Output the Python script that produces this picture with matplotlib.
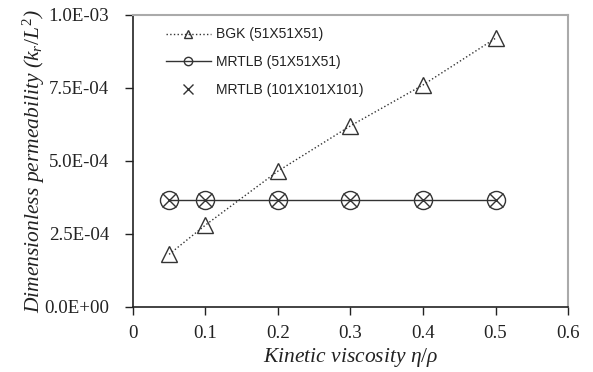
import matplotlib
matplotlib.use("Agg")
from matplotlib import pyplot as plt

viscosity = [0.05, 0.1, 0.2, 0.3, 0.4, 0.5]
bgk_51 = [1.8e-4, 2.8e-4, 4.65e-4, 6.2e-4, 7.6e-4, 9.2e-4]
mrt_51 = [3.65e-4, 3.65e-4, 3.65e-4, 3.65e-4, 3.65e-4, 3.65e-4]
mrt_101 = [3.65e-4, 3.65e-4, 3.65e-4, 3.65e-4, 3.65e-4, 3.65e-4]

plt.rcParams['mathtext.fontset'] = 'custom'
plt.rcParams['mathtext.rm'] = 'Liberation Serif'
plt.rcParams['mathtext.it'] = 'Liberation Serif:italic'

fig = plt.figure(figsize=(5.93, 3.72), dpi=100)
ax = fig.add_axes([0.224, 0.175, 0.734, 0.785])

ink = '#333333'
ax.plot(viscosity, bgk_51, linestyle=':', color=ink, linewidth=1.0, marker='^',
        markersize=12, markerfacecolor='none', markeredgecolor=ink, markeredgewidth=1.0,
        label='BGK (51X51X51)')
ax.plot(viscosity, mrt_51, linestyle='-', color=ink, linewidth=1.0, marker='o',
        markersize=13, markerfacecolor='none', markeredgecolor=ink, markeredgewidth=1.0,
        label='MRTLB (51X51X51)')
ax.plot(viscosity, mrt_101, linestyle='none', marker='x', color=ink,
        markersize=10, markeredgewidth=1.0, label='MRTLB (101X101X101)')

ax.set_xlim(0, 0.6)
ax.set_ylim(0, 1.0e-3)
ax.set_xticks([0, 0.1, 0.2, 0.3, 0.4, 0.5, 0.6])
ax.set_xticklabels(['0', '0.1', '0.2', '0.3', '0.4', '0.5', '0.6'])
yt = [0, 2.5e-4, 5.0e-4, 7.5e-4, 1.0e-3]
ax.set_yticks(yt)
ax.set_yticklabels(['0.0E+00', '2.5E-04', '5.0E-04', '7.5E-04', '1.0E-03'])
for lab in ax.get_xticklabels() + ax.get_yticklabels():
    lab.set_fontfamily('Liberation Serif')
    lab.set_fontsize(13.6)
    lab.set_color('#222222')
ax.tick_params(direction='out', length=6, width=1, color='#222222')
ax.tick_params(axis='x', pad=7)
ax.tick_params(axis='y', pad=11)

for s in ['top', 'right']:
    ax.spines[s].set_color('#aaaaaa')
    ax.spines[s].set_linewidth(1.5)
for s in ['left', 'bottom']:
    ax.spines[s].set_color('#222222')
    ax.spines[s].set_linewidth(1.2)

ax.set_xlabel(r'Kinetic viscosity $\eta/\rho$', fontfamily='Liberation Serif',
              fontstyle='italic', fontsize=15.5, color='#222222', labelpad=3)
ax.set_ylabel(r'Dimensionless permeability ($k_r/L^2$)', fontfamily='Liberation Serif',
              fontstyle='italic', fontsize=15.5, color='#222222', labelpad=-2)

leg = ax.legend(loc='upper left', frameon=False,
                prop={'family': 'Liberation Sans', 'size': 10},
                handlelength=3.2, handletextpad=0.4, labelspacing=1.0,
                bbox_to_anchor=(0.048, 1.0))
sizes = [6, 6, 7]
for h, ms in zip(leg.legend_handles, sizes):
    h.set_markersize(ms)
for t in leg.get_texts():
    t.set_color('#222222')

fig.savefig('out.png', dpi=100)
plt.close(fig)
